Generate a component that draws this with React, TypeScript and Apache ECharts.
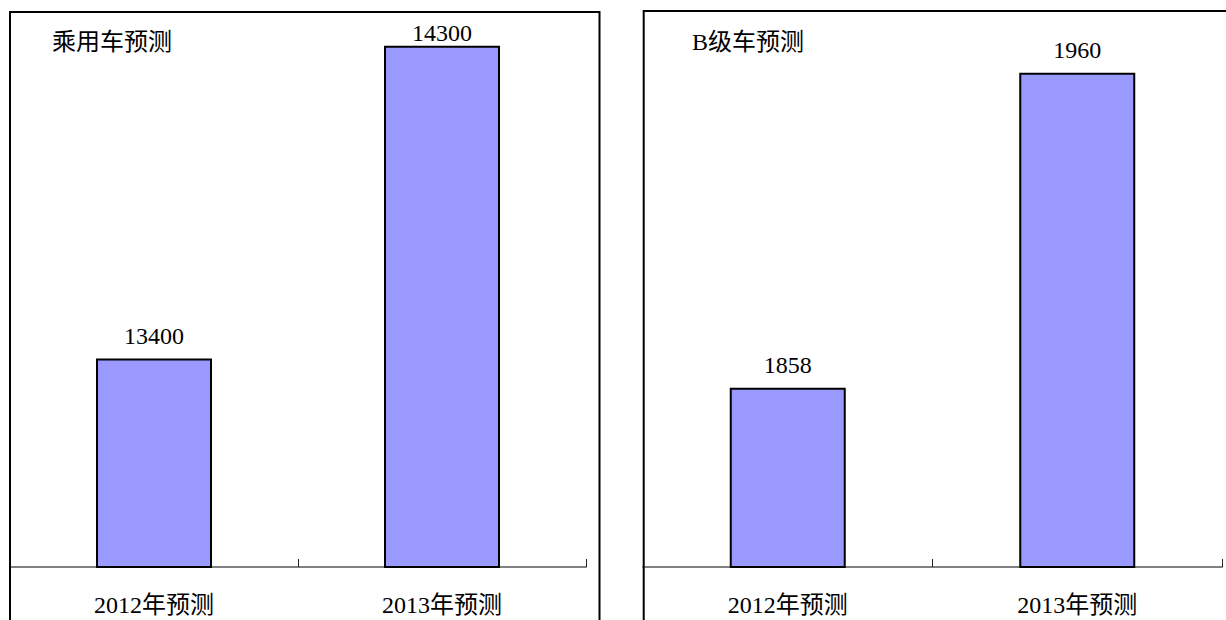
import React, { useEffect, useRef } from "react";
import * as echarts from "echarts";

const categories = ["2012年预测", "2013年预测"];
const passengerTitle = "乘用车预测";
const passengerValues = [13400, 14300];
const bClassTitle = "B级车预测";
const bClassValues = [1858, 1960];

const FONT = "'Liberation Serif', 'DejaVu Serif', 'Noto Sans CJK SC', serif";

export default function App() {
  const ref = useRef<HTMLDivElement>(null);
  useEffect(() => {
    const chart = echarts.init(ref.current!, null, { renderer: "svg" });
    const xAxisCommon = {
      type: "category" as const,
      data: categories,
      boundaryGap: true,
      axisLine: { show: true, lineStyle: { color: "#808080", width: 2 } },
      axisTick: { show: true, inside: true, length: 8, lineStyle: { color: "#222", width: 1 } },
      axisLabel: { color: "#000", fontSize: 24, fontFamily: FONT, margin: 26 },
      splitLine: { show: false },
    };
    const barStyle = { color: "#9999FF", borderColor: "#000", borderWidth: 2 };
    const labelCommon = {
      show: true,
      position: "top" as const,
      distance: 11,
      color: "#000",
      fontSize: 24,
      fontFamily: FONT,
    };
    const titleStyle = { fontSize: 24, fontWeight: "normal" as const, color: "#000", fontFamily: FONT };
    chart.setOption({
      animation: false,
      backgroundColor: "#fff",
      title: [
        { text: passengerTitle, left: 52, top: 30, padding: 0, textStyle: titleStyle },
        { text: bClassTitle, left: 692, top: 30, padding: 0, textStyle: titleStyle },
      ],
      grid: [
        { left: 10, top: 11, width: 576, height: 556 },
        { left: 643, top: 11, width: 579, height: 556 },
      ],
      xAxis: [
        { ...xAxisCommon, gridIndex: 0 },
        { ...xAxisCommon, gridIndex: 1 },
      ],
      yAxis: [
        { type: "value", gridIndex: 0, min: 12800, max: 14400, show: false, splitLine: { show: false } },
        { type: "value", gridIndex: 1, min: 1800, max: 1980, show: false, splitLine: { show: false } },
      ],
      series: [
        {
          type: "bar",
          xAxisIndex: 0,
          yAxisIndex: 0,
          barWidth: 116,
          itemStyle: barStyle,
          label: labelCommon,
          data: passengerValues.map((v, i) =>
            i === 1 ? { value: v, label: { distance: 1 } } : v
          ),
        },
        {
          type: "bar",
          xAxisIndex: 1,
          yAxisIndex: 1,
          barWidth: 116,
          itemStyle: barStyle,
          label: labelCommon,
          data: bClassValues,
        },
      ],
      graphic: [
        { type: "rect", shape: { x: 10, y: 12, width: 589.5, height: 700 }, style: { fill: "none", stroke: "#000", lineWidth: 2 }, z: 100 },
        { type: "rect", shape: { x: 643.7, y: 11, width: 600, height: 700 }, style: { fill: "none", stroke: "#000", lineWidth: 2 }, z: 100 },
      ],
    });
    return () => chart.dispose();
  }, []);
  return (
    <div
      ref={ref}
      style={{ position: "fixed", left: 0, top: 0, width: 1226, height: 620 }}
    />
  );
}
